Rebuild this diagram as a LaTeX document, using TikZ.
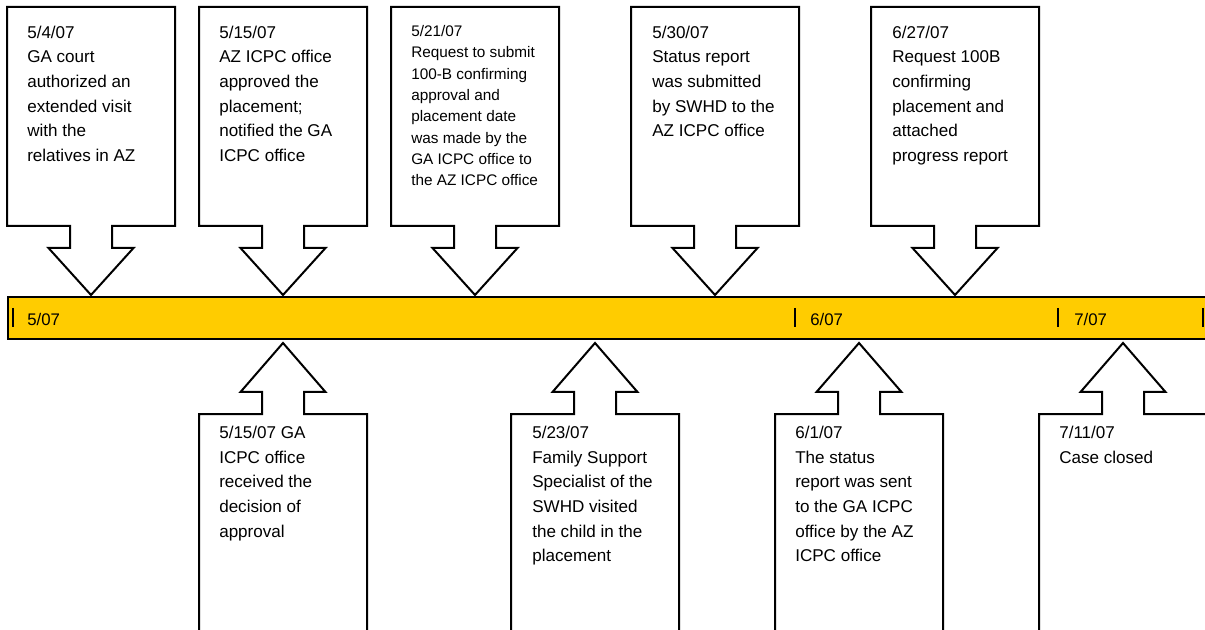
\documentclass[tikz,border=0pt]{standalone}
\usepackage{fontspec}
\setmainfont{Liberation Sans}
\definecolor{barfill}{HTML}{FFCC00}
% down-pointing callout centred on x = #1, tip touching the bar
\newcommand\DownCallout[1]{%
  \draw[callout] (#1-84,7) -- (#1+84,7) -- (#1+84,226) -- (#1+21,226) -- (#1+21,248)
    -- (#1+42.5,248) -- (#1,295) -- (#1-42.5,248) -- (#1-21,248) -- (#1-21,226)
    -- (#1-84,226) -- cycle;}
% up-pointing callout centred on x = #1, box running off the bottom edge
\newcommand\UpCallout[1]{%
  \draw[callout] (#1-84,640) -- (#1-84,414) -- (#1-21,414) -- (#1-21,392)
    -- (#1-42.5,392) -- (#1,343) -- (#1+42.5,392) -- (#1+21,392) -- (#1+21,414)
    -- (#1+84,414) -- (#1+84,640);}
\begin{document}
\begin{tikzpicture}[x=0.75pt,y=-0.75pt,
  callout/.style={draw=black,line width=1.5pt,fill=white,line join=miter},
  note/.style={anchor=north west,inner sep=0pt,align=left,text=black,
    font=\fontsize{12.8}{18.5}\selectfont},
  smallnote/.style={note,font=\fontsize{11.5}{16}\selectfont},
  month/.style={anchor=base west,inner sep=0pt,font=\fontsize{12.6}{15}\selectfont},
  tickmark/.style={line width=2pt},
  timebar/.style={draw=black,line width=1.5pt,fill=barfill,anchor=north west,
    inner sep=0pt,minimum width=1208*0.75pt,minimum height=42*0.75pt}]
\useasboundingbox (0,0) rectangle (1205,630);
\clip (0,0) rectangle (1205,630);

% timeline bar
\node[timebar] (bar) at (7,296) {};
\foreach \tx in {13,795,1058,1203} \draw[tickmark] (\tx,308) -- (\tx,327);
\node[month] (m5) at (27,326) {5/07};
\node[month] (m6) at (810,326) {6/07};
\node[month] (m7) at (1074,326) {7/07};

% events above the bar
\DownCallout{91}
\node[note] (e1) at (27,25.5) {5/4/07\\GA court\\authorized an\\extended visit\\with the\\relatives in AZ};
\DownCallout{283}
\node[note] (e2) at (219,25.5) {5/15/07\\AZ ICPC office\\approved the\\placement;\\notified the GA\\ICPC office};
\DownCallout{475}
\node[smallnote] (e3) at (411,25) {5/21/07\\Request to submit\\100-B confirming\\approval and\\placement date\\was made by the\\GA ICPC office to\\the AZ ICPC office};
\DownCallout{715}
\node[note] (e4) at (652,25.5) {5/30/07\\Status report\\was submitted\\by SWHD to the\\AZ ICPC office};
\DownCallout{955}
\node[note] (e5) at (892,25.5) {6/27/07\\Request 100B\\confirming\\placement and\\attached\\progress report};

% events below the bar
\UpCallout{283}
\node[note] (f1) at (219,426) {5/15/07 GA\\ICPC office\\received the\\decision of\\approval};
\UpCallout{595}
\node[note] (f2) at (532,426) {5/23/07\\Family Support\\Specialist of the\\SWHD visited\\the child in the\\placement};
\UpCallout{859}
\node[note] (f3) at (795,426) {6/1/07\\The status\\report was sent\\to the GA ICPC\\office by the AZ\\ICPC office};
\UpCallout{1123}
\node[note] (f4) at (1059,426) {7/11/07\\Case closed};
\end{tikzpicture}
\end{document}
